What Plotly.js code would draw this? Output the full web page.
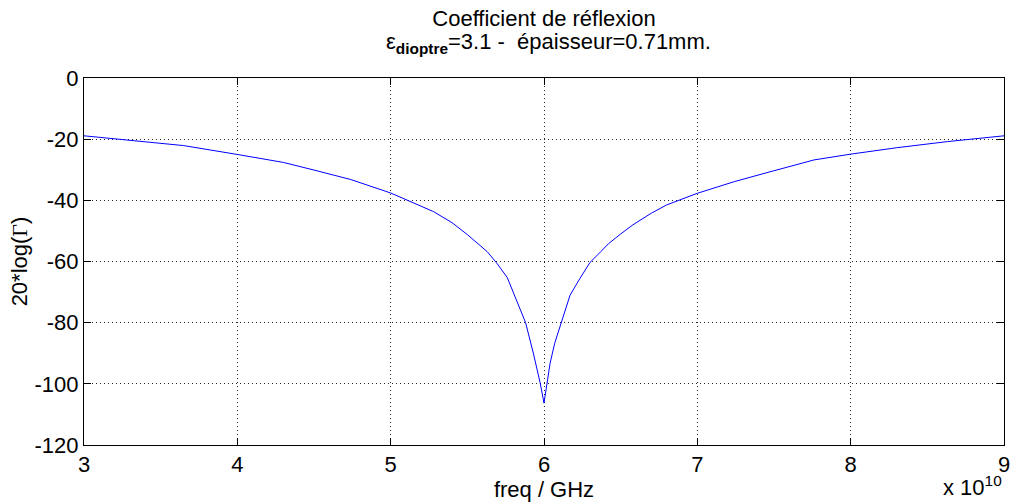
<!DOCTYPE html>
<html>
<head>
<meta charset="utf-8">
<script src="https://cdn.plot.ly/plotly-3.0.1.min.js"></script>
<style>html,body{margin:0;padding:0;background:#fff}#chart{width:1010px;height:504px}</style>
</head>
<body>
<div id="chart"></div>
<script>
// frequency in units of 1e10 Hz (axis shows "x 10^10")
var freq = [3.0, 3.33, 3.65, 4.0, 4.3, 4.5, 4.74, 5.0, 5.28, 5.4, 5.5, 5.63, 5.69, 5.76, 5.82, 5.88, 5.93, 5.975, 6.0,
            6.04, 6.07, 6.116, 6.17, 6.235, 6.3, 6.37, 6.42, 6.5, 6.58, 6.7, 6.8, 7.0, 7.24, 7.45, 7.67, 7.76, 8.0, 8.3, 8.63, 9.0];
var gammaDb = [-18.9, -20.6, -22.1, -25.0, -27.6, -30.1, -33.2, -37.6, -43.7, -47.3, -51.2, -56.8, -60.4, -65.2, -72.4, -80.0, -89.9, -99.7, -106.3,
               -93.2, -86.7, -79.7, -71.0, -65.5, -60.3, -56.8, -54.2, -51.0, -48.0, -44.2, -41.5, -37.7, -33.9, -31.0, -27.9, -26.8, -24.9, -22.8, -20.8, -18.9];
var xTickVals = [3, 4, 5, 6, 7, 8, 9];
var xTickText = ["3", "4", "5", "6", "7", "8", "9"];
var yTickVals = [-120, -100, -80, -60, -40, -20, 0];
var yTickText = ["-120", "-100", "-80", "-60", "-40", "-20", "0"];
var titleLine1 = "Coefficient de réflexion";
var titleLine2 = "ε<sub><b>dioptre</b></sub>=3.1 -  épaisseur=0.71mm.";

var font = {family: "Liberation Sans, Arial, sans-serif", size: 22, color: "#000"};

var trace = {
  x: freq, y: gammaDb, type: "scatter", mode: "lines",
  line: {color: "#0000ff", width: 1},
  hoverinfo: "none"
};

var axisCommon = {
  showline: true, linecolor: "#000", linewidth: 1, mirror: "ticks",
  ticks: "inside", ticklen: 7, tickcolor: "#000",
  showgrid: true, gridcolor: "#222", griddash: "1px,3px", gridwidth: 1,
  zeroline: false, tickfont: font, ticklabeloverflow: "allow"
};

var layout = {
  width: 1010, height: 504,
  margin: {l: 84, r: 6, t: 78, b: 59},
  paper_bgcolor: "#fff", plot_bgcolor: "#fff",
  showlegend: false,
  font: font,
  title: {
    text: titleLine1,
    font: font, xref: "paper", x: 0.5, xanchor: "center",
    yref: "container", y: 0.963, yanchor: "middle"
  },
  xaxis: Object.assign({}, axisCommon, {
    range: [3, 9], tickmode: "array", tickvals: xTickVals, ticktext: xTickText,
    title: {text: "freq / GHz", font: font, standoff: 0}
  }),
  yaxis: Object.assign({}, axisCommon, {
    range: [-120, 0], tickmode: "array", tickvals: yTickVals, ticktext: yTickText,
    title: {text: "20*log(<span style=\"font-family:Liberation Serif\">Γ</span>)", font: font, standoff: 0}
  }),
  annotations: [{
    xref: "paper", yref: "paper", x: 0.505, y: 1.096, xanchor: "center", yanchor: "middle",
    text: titleLine2, showarrow: false, font: font
  }, {
    xref: "paper", yref: "paper", x: 1.0, y: -0.155, xanchor: "right", yanchor: "bottom",
    text: "x 10<sup>10</sup>", showarrow: false, font: font
  }]
};

Plotly.newPlot("chart", [trace], layout, {displayModeBar: false, staticPlot: true});
</script>
</body>
</html>
